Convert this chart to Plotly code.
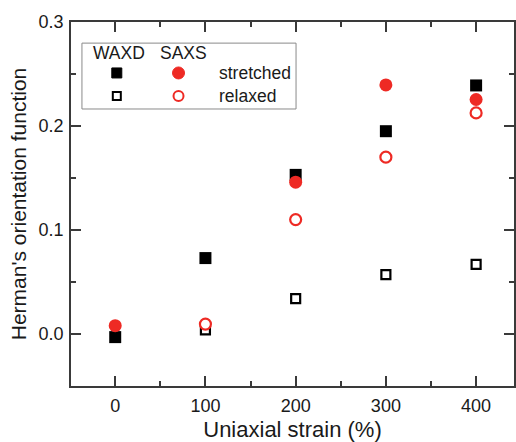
import plotly.graph_objects as go

# ---- data ----
strain = [0, 100, 200, 300, 400]
waxd_stretched = [-0.003, 0.073, 0.153, 0.195, 0.239]

strain_relaxed = [100, 200, 300, 400]
waxd_relaxed = [0.004, 0.034, 0.057, 0.067]

strain_saxs_stretched = [0, 200, 300, 400]
saxs_stretched = [0.008, 0.146, 0.2395, 0.2255]

saxs_relaxed = [0.0095, 0.110, 0.170, 0.2126]

x_ticks = [0, 100, 200, 300, 400]
y_ticks = [0.0, 0.1, 0.2, 0.3]

RED = "#ee2a24"
AX = "#3a3a3a"
FONT = "Liberation Sans, Arial, sans-serif"

fig = go.Figure()
fig.add_trace(go.Scatter(x=strain, y=waxd_stretched, mode="markers",
                         marker=dict(symbol="square", size=12, color="black"),
                         showlegend=False))
fig.add_trace(go.Scatter(x=strain_relaxed, y=waxd_relaxed, mode="markers",
                         marker=dict(symbol="square-open", size=9, color="black",
                                     line=dict(width=2.2, color="black")),
                         showlegend=False))
fig.add_trace(go.Scatter(x=strain_saxs_stretched, y=saxs_stretched, mode="markers",
                         marker=dict(symbol="circle", size=13, color=RED),
                         showlegend=False))
fig.add_trace(go.Scatter(x=strain_relaxed, y=saxs_relaxed, mode="markers",
                         marker=dict(symbol="circle", size=11, color="white",
                                     line=dict(width=2.2, color=RED)),
                         showlegend=False))

axis_common = dict(showline=True, linecolor=AX, linewidth=1.5, mirror="ticks",
                   ticks="inside", tickcolor=AX, tickwidth=1.5, ticklen=10,
                   showgrid=False, zeroline=False,
                   tickfont=dict(family=FONT, size=18, color="#1a1a1a"))

fig.update_xaxes(range=[-49, 442], tickvals=x_ticks,
                 minor=dict(ticks="inside", ticklen=5, dtick=50, tick0=0,
                            tickcolor=AX, tickwidth=1.5),
                 ticklabelstandoff=3,
                 title=dict(text="Uniaxial strain (%)", standoff=7,
                            font=dict(family=FONT, size=22, color="#1a1a1a")),
                 **axis_common)
fig.update_yaxes(range=[-0.05, 0.3], tickvals=y_ticks, tickformat=".1f",
                 minor=dict(ticks="inside", ticklen=5, dtick=0.05, tick0=0,
                            tickcolor=AX, tickwidth=1.5),
                 ticklabelstandoff=2,
                 title=dict(text="Herman's orientation function", standoff=6,
                            font=dict(family=FONT, size=21, color="#1a1a1a")),
                 **axis_common)

# ---- hand-made legend ----
shapes = [dict(type="rect", xref="paper", yref="paper", x0=0.0247, x1=0.508,
               y0=0.761, y1=0.942, line=dict(color="#8a8a8a", width=1),
               fillcolor="white", layer="below")]
col_w, col_s = 0.1034, 0.2427
row1, row2 = 0.860, 0.797

def px_shape(kind, xc, yc, half, fill, line_color, lw):
    return dict(type=kind, xref="paper", yref="paper", xsizemode="pixel",
                ysizemode="pixel", xanchor=xc, yanchor=yc,
                x0=-half, x1=half, y0=-half, y1=half,
                fillcolor=fill, line=dict(color=line_color, width=lw))

shapes += [
    px_shape("rect", col_w, row1, 5, "black", "black", 1),
    px_shape("rect", col_w, row2, 4, "white", "black", 2),
    px_shape("circle", col_s, row1, 6, RED, RED, 1),
    px_shape("circle", col_s, row2, 5, "white", RED, 2),
]

lf = dict(family=FONT, size=17.5, color="#1a1a1a")
annotations = [
    dict(text="WAXD", x=0.109, y=0.915, xref="paper", yref="paper",
         showarrow=False, font=lf, xanchor="center", yanchor="middle"),
    dict(text="SAXS", x=0.253, y=0.915, xref="paper", yref="paper",
         showarrow=False, font=lf, xanchor="center", yanchor="middle"),
    dict(text="stretched", x=0.330, y=row1, xref="paper", yref="paper",
         showarrow=False, font=lf, xanchor="left", yanchor="middle"),
    dict(text="relaxed", x=0.330, y=row2, xref="paper", yref="paper",
         showarrow=False, font=lf, xanchor="left", yanchor="middle"),
]

fig.update_layout(width=516, height=442,
                  margin=dict(l=71, r=0, t=22, b=56),
                  plot_bgcolor="white", paper_bgcolor="white",
                  shapes=shapes, annotations=annotations,
                  font=dict(family=FONT))

fig.write_html("out.html")
